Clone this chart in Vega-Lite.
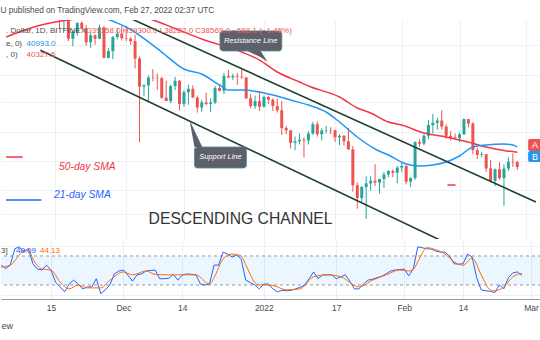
{
  "$schema": "https://vega.github.io/schema/vega-lite/v6.json",
  "background": "white",
  "padding": {"left": 0, "right": 0, "top": 5, "bottom": 0},
  "spacing": 1,
  "title": {"text": "U published on TradingView.com, Feb 27, 2022 02:37 UTC", "anchor": "start", "fontSize": 8.2, "fontWeight": "normal", "color": "#4a4a4a", "font": "Liberation Sans", "offset": 5},
  "config": {
    "view": {"stroke": null},
    "font": "Liberation Sans",
    "axis": {"gridColor": "#edf0f5", "gridWidth": 1, "domain": false, "ticks": false, "labels": false}
  },
  "datasets": {
    "candles": [
      {"date": "2021-11-10", "open": 66900, "high": 69000, "low": 62800, "close": 64900},
      {"date": "2021-11-11", "open": 64900, "high": 65600, "low": 64100, "close": 64950},
      {"date": "2021-11-12", "open": 64950, "high": 65400, "low": 62300, "close": 64200},
      {"date": "2021-11-13", "open": 64200, "high": 64900, "low": 63400, "close": 64400},
      {"date": "2021-11-14", "open": 64400, "high": 65500, "low": 63600, "close": 65500},
      {"date": "2021-11-15", "open": 65500, "high": 66300, "low": 63500, "close": 63600},
      {"date": "2021-11-16", "open": 63600, "high": 63600, "low": 58600, "close": 60300},
      {"date": "2021-11-17", "open": 60300, "high": 60800, "low": 58400, "close": 60400},
      {"date": "2021-11-18", "open": 60400, "high": 60900, "low": 56500, "close": 56900},
      {"date": "2021-11-19", "open": 56900, "high": 58300, "low": 55600, "close": 58100},
      {"date": "2021-11-20", "open": 58100, "high": 59800, "low": 57400, "close": 59700},
      {"date": "2021-11-21", "open": 59700, "high": 60000, "low": 58500, "close": 58700},
      {"date": "2021-11-22", "open": 58700, "high": 59300, "low": 55700, "close": 56300},
      {"date": "2021-11-23", "open": 56300, "high": 58000, "low": 55300, "close": 57500},
      {"date": "2021-11-24", "open": 57500, "high": 57700, "low": 55900, "close": 56900},
      {"date": "2021-11-25", "open": 56900, "high": 59400, "low": 56800, "close": 58900},
      {"date": "2021-11-26", "open": 58900, "high": 59100, "low": 53600, "close": 53700},
      {"date": "2021-11-27", "open": 53700, "high": 55300, "low": 53600, "close": 54800},
      {"date": "2021-11-28", "open": 54800, "high": 57400, "low": 53500, "close": 57200},
      {"date": "2021-11-29", "open": 57200, "high": 58800, "low": 56800, "close": 57800},
      {"date": "2021-11-30", "open": 57800, "high": 59200, "low": 56600, "close": 57000},
      {"date": "2021-12-01", "open": 57000, "high": 59100, "low": 56500, "close": 56900},
      {"date": "2021-12-02", "open": 56900, "high": 57200, "low": 55900, "close": 56500},
      {"date": "2021-12-03", "open": 56500, "high": 57600, "low": 52000, "close": 53600},
      {"date": "2021-12-04", "open": 53600, "high": 53900, "low": 41600, "close": 49200},
      {"date": "2021-12-05", "open": 49200, "high": 49600, "low": 47800, "close": 49400},
      {"date": "2021-12-06", "open": 49400, "high": 50900, "low": 47100, "close": 50600},
      {"date": "2021-12-07", "open": 50600, "high": 51900, "low": 50000, "close": 50550},
      {"date": "2021-12-08", "open": 50550, "high": 51200, "low": 48700, "close": 50500},
      {"date": "2021-12-09", "open": 50500, "high": 50700, "low": 47400, "close": 47600},
      {"date": "2021-12-10", "open": 47600, "high": 50100, "low": 47300, "close": 47100},
      {"date": "2021-12-11", "open": 47100, "high": 49500, "low": 46800, "close": 49300},
      {"date": "2021-12-12", "open": 49300, "high": 50700, "low": 48700, "close": 50100},
      {"date": "2021-12-13", "open": 50100, "high": 50200, "low": 45800, "close": 46700},
      {"date": "2021-12-14", "open": 46700, "high": 48700, "low": 46300, "close": 48400},
      {"date": "2021-12-15", "open": 48400, "high": 49500, "low": 46600, "close": 48900},
      {"date": "2021-12-16", "open": 48900, "high": 49400, "low": 47600, "close": 47600},
      {"date": "2021-12-17", "open": 47600, "high": 47900, "low": 45500, "close": 46200},
      {"date": "2021-12-18", "open": 46200, "high": 47300, "low": 45600, "close": 46900},
      {"date": "2021-12-19", "open": 46900, "high": 48300, "low": 46500, "close": 46700},
      {"date": "2021-12-20", "open": 46700, "high": 47500, "low": 45600, "close": 46900},
      {"date": "2021-12-21", "open": 46900, "high": 49300, "low": 46700, "close": 49000},
      {"date": "2021-12-22", "open": 49000, "high": 49600, "low": 48500, "close": 48600},
      {"date": "2021-12-23", "open": 48600, "high": 51300, "low": 48100, "close": 50800},
      {"date": "2021-12-24", "open": 50800, "high": 51800, "low": 50500, "close": 50600},
      {"date": "2021-12-25", "open": 50600, "high": 51200, "low": 50200, "close": 50800},
      {"date": "2021-12-26", "open": 50800, "high": 51300, "low": 49500, "close": 50700},
      {"date": "2021-12-27", "open": 50700, "high": 52000, "low": 50400, "close": 50600},
      {"date": "2021-12-28", "open": 50600, "high": 50700, "low": 47400, "close": 47500},
      {"date": "2021-12-29", "open": 47500, "high": 48100, "low": 46100, "close": 46400},
      {"date": "2021-12-30", "open": 46400, "high": 47900, "low": 46000, "close": 47100},
      {"date": "2021-12-31", "open": 47100, "high": 48500, "low": 45700, "close": 46300},
      {"date": "2022-01-01", "open": 46300, "high": 47900, "low": 46200, "close": 47700},
      {"date": "2022-01-02", "open": 47700, "high": 47900, "low": 46700, "close": 47300},
      {"date": "2022-01-03", "open": 47300, "high": 47500, "low": 45700, "close": 46400},
      {"date": "2022-01-04", "open": 46400, "high": 47500, "low": 45500, "close": 45800},
      {"date": "2022-01-05", "open": 45800, "high": 47100, "low": 42500, "close": 43400},
      {"date": "2022-01-06", "open": 43400, "high": 43700, "low": 42600, "close": 43100},
      {"date": "2022-01-07", "open": 43100, "high": 43100, "low": 40800, "close": 41500},
      {"date": "2022-01-08", "open": 41500, "high": 42300, "low": 40600, "close": 41700},
      {"date": "2022-01-09", "open": 41700, "high": 42700, "low": 41300, "close": 41900},
      {"date": "2022-01-10", "open": 41900, "high": 42200, "low": 39700, "close": 41800},
      {"date": "2022-01-11", "open": 41800, "high": 43000, "low": 41300, "close": 42700},
      {"date": "2022-01-12", "open": 42700, "high": 44200, "low": 42500, "close": 43900},
      {"date": "2022-01-13", "open": 43900, "high": 44300, "low": 42300, "close": 42600},
      {"date": "2022-01-14", "open": 42600, "high": 43400, "low": 41800, "close": 43100},
      {"date": "2022-01-15", "open": 43100, "high": 43700, "low": 42700, "close": 43150},
      {"date": "2022-01-16", "open": 43150, "high": 43500, "low": 42600, "close": 43100},
      {"date": "2022-01-17", "open": 43100, "high": 43200, "low": 41600, "close": 42200},
      {"date": "2022-01-18", "open": 42200, "high": 42600, "low": 41200, "close": 42400},
      {"date": "2022-01-19", "open": 42400, "high": 42500, "low": 41200, "close": 41700},
      {"date": "2022-01-20", "open": 41700, "high": 43400, "low": 40600, "close": 40700},
      {"date": "2022-01-21", "open": 40700, "high": 41100, "low": 35800, "close": 36500},
      {"date": "2022-01-22", "open": 36500, "high": 36800, "low": 34000, "close": 35100},
      {"date": "2022-01-23", "open": 35100, "high": 36400, "low": 34700, "close": 36300},
      {"date": "2022-01-24", "open": 36300, "high": 37500, "low": 32950, "close": 36700},
      {"date": "2022-01-25", "open": 36700, "high": 37500, "low": 35900, "close": 37000},
      {"date": "2022-01-26", "open": 37000, "high": 38900, "low": 36400, "close": 36800},
      {"date": "2022-01-27", "open": 36800, "high": 37200, "low": 35600, "close": 37200},
      {"date": "2022-01-28", "open": 37200, "high": 38000, "low": 36200, "close": 37700},
      {"date": "2022-01-29", "open": 37700, "high": 38200, "low": 37400, "close": 38100},
      {"date": "2022-01-30", "open": 38100, "high": 38300, "low": 37400, "close": 37900},
      {"date": "2022-01-31", "open": 37900, "high": 38700, "low": 36700, "close": 38500},
      {"date": "2022-02-01", "open": 38500, "high": 39200, "low": 38000, "close": 38700},
      {"date": "2022-02-02", "open": 38700, "high": 38800, "low": 36600, "close": 36900},
      {"date": "2022-02-03", "open": 36900, "high": 37400, "low": 36300, "close": 37300},
      {"date": "2022-02-04", "open": 37300, "high": 41700, "low": 37100, "close": 41600},
      {"date": "2022-02-05", "open": 41600, "high": 42000, "low": 41000, "close": 41400},
      {"date": "2022-02-06", "open": 41400, "high": 42600, "low": 41200, "close": 42400},
      {"date": "2022-02-07", "open": 42400, "high": 44500, "low": 42000, "close": 43800},
      {"date": "2022-02-08", "open": 43800, "high": 45300, "low": 42700, "close": 44100},
      {"date": "2022-02-09", "open": 44100, "high": 44800, "low": 43200, "close": 44400},
      {"date": "2022-02-10", "open": 44400, "high": 45800, "low": 43200, "close": 43600},
      {"date": "2022-02-11", "open": 43600, "high": 43900, "low": 42000, "close": 42400},
      {"date": "2022-02-12", "open": 42400, "high": 43000, "low": 41800, "close": 42200},
      {"date": "2022-02-13", "open": 42200, "high": 42700, "low": 41900, "close": 42100},
      {"date": "2022-02-14", "open": 42100, "high": 42800, "low": 41600, "close": 42600},
      {"date": "2022-02-15", "open": 42600, "high": 44700, "low": 42500, "close": 44600},
      {"date": "2022-02-16", "open": 44600, "high": 44600, "low": 43500, "close": 44000},
      {"date": "2022-02-17", "open": 44000, "high": 44200, "low": 40100, "close": 40600},
      {"date": "2022-02-18", "open": 40600, "high": 40900, "low": 39500, "close": 40000},
      {"date": "2022-02-19", "open": 40000, "high": 40400, "low": 39700, "close": 40100},
      {"date": "2022-02-20", "open": 40100, "high": 40100, "low": 38000, "close": 38400},
      {"date": "2022-02-21", "open": 38400, "high": 39400, "low": 36800, "close": 37000},
      {"date": "2022-02-22", "open": 37000, "high": 38400, "low": 36400, "close": 38300},
      {"date": "2022-02-23", "open": 38300, "high": 39100, "low": 37100, "close": 37300},
      {"date": "2022-02-24", "open": 37300, "high": 38900, "low": 34300, "close": 38400},
      {"date": "2022-02-25", "open": 38400, "high": 39700, "low": 38100, "close": 39200},
      {"date": "2022-02-26", "open": 39200, "high": 40200, "low": 38600, "close": 39137},
      {"date": "2022-02-27", "open": 39158, "high": 39300, "low": 38222, "close": 38569}
    ],
    "sma50": [
      {"date": "2021-11-04", "value": 57195}, {"date": "2021-11-11", "value": 59133},
      {"date": "2021-11-15", "value": 59857}, {"date": "2021-11-20", "value": 60450},
      {"date": "2021-11-27", "value": 61000}, {"date": "2021-12-02", "value": 61000},
      {"date": "2021-12-07", "value": 60230}, {"date": "2021-12-12", "value": 58690},
      {"date": "2021-12-18", "value": 56850}, {"date": "2021-12-27", "value": 54660},
      {"date": "2021-12-31", "value": 53346}, {"date": "2022-01-04", "value": 51445},
      {"date": "2022-01-09", "value": 49906}, {"date": "2022-01-11", "value": 49300},
      {"date": "2022-01-18", "value": 47690}, {"date": "2022-01-22", "value": 46123},
      {"date": "2022-01-25", "value": 45431}, {"date": "2022-01-29", "value": 44210},
      {"date": "2022-02-01", "value": 43810}, {"date": "2022-02-06", "value": 42760},
      {"date": "2022-02-11", "value": 42245}, {"date": "2022-02-15", "value": 41734},
      {"date": "2022-02-20", "value": 40983}, {"date": "2022-02-24", "value": 40552},
      {"date": "2022-02-27", "value": 40327.5}
    ],
    "sma21": [
      {"date": "2021-11-04", "value": 63500}, {"date": "2021-11-12", "value": 64200},
      {"date": "2021-11-20", "value": 62500}, {"date": "2021-11-28", "value": 60000},
      {"date": "2021-12-01", "value": 58958}, {"date": "2021-12-09", "value": 54658},
      {"date": "2021-12-14", "value": 51913}, {"date": "2021-12-18", "value": 51132},
      {"date": "2021-12-22", "value": 49458}, {"date": "2021-12-24", "value": 48711},
      {"date": "2021-12-27", "value": 48711}, {"date": "2021-12-31", "value": 48417},
      {"date": "2022-01-03", "value": 47978}, {"date": "2022-01-07", "value": 47257},
      {"date": "2022-01-11", "value": 46548}, {"date": "2022-01-15", "value": 45570},
      {"date": "2022-01-18", "value": 44210}, {"date": "2022-01-22", "value": 42245},
      {"date": "2022-01-26", "value": 40736}, {"date": "2022-01-29", "value": 40002},
      {"date": "2022-02-02", "value": 38928}, {"date": "2022-02-05", "value": 38690},
      {"date": "2022-02-08", "value": 38809}, {"date": "2022-02-11", "value": 39162},
      {"date": "2022-02-14", "value": 39883}, {"date": "2022-02-17", "value": 40983},
      {"date": "2022-02-20", "value": 41231}, {"date": "2022-02-24", "value": 41358},
      {"date": "2022-02-26", "value": 41231}, {"date": "2022-02-27", "value": 40993}
    ],
    "stochK": [
      {"date": "2021-11-04", "k": 61}, {"date": "2021-11-05", "k": 54}, {"date": "2021-11-06", "k": 61},
      {"date": "2021-11-07", "k": 95}, {"date": "2021-11-08", "k": 99}, {"date": "2021-11-09", "k": 88},
      {"date": "2021-11-10", "k": 95}, {"date": "2021-11-11", "k": 64}, {"date": "2021-11-12", "k": 53},
      {"date": "2021-11-13", "k": 51}, {"date": "2021-11-14", "k": 61}, {"date": "2021-11-15", "k": 51},
      {"date": "2021-11-16", "k": 26}, {"date": "2021-11-17", "k": 16}, {"date": "2021-11-18", "k": 6},
      {"date": "2021-11-19", "k": 22}, {"date": "2021-11-20", "k": 30}, {"date": "2021-11-21", "k": 22},
      {"date": "2021-11-22", "k": 12}, {"date": "2021-11-23", "k": 16}, {"date": "2021-11-24", "k": 16},
      {"date": "2021-11-25", "k": 33}, {"date": "2021-11-26", "k": 2}, {"date": "2021-11-27", "k": 10},
      {"date": "2021-11-28", "k": 20}, {"date": "2021-11-29", "k": 43}, {"date": "2021-11-30", "k": 49},
      {"date": "2021-12-01", "k": 51}, {"date": "2021-12-02", "k": 40}, {"date": "2021-12-03", "k": 28},
      {"date": "2021-12-04", "k": 41}, {"date": "2021-12-05", "k": 43}, {"date": "2021-12-06", "k": 49},
      {"date": "2021-12-07", "k": 50}, {"date": "2021-12-08", "k": 51}, {"date": "2021-12-09", "k": 33},
      {"date": "2021-12-10", "k": 33}, {"date": "2021-12-11", "k": 34}, {"date": "2021-12-12", "k": 42},
      {"date": "2021-12-13", "k": 30}, {"date": "2021-12-14", "k": 41}, {"date": "2021-12-15", "k": 43},
      {"date": "2021-12-16", "k": 42}, {"date": "2021-12-17", "k": 41}, {"date": "2021-12-18", "k": 22},
      {"date": "2021-12-19", "k": 20}, {"date": "2021-12-20", "k": 22}, {"date": "2021-12-21", "k": 61},
      {"date": "2021-12-22", "k": 61}, {"date": "2021-12-23", "k": 88}, {"date": "2021-12-24", "k": 84},
      {"date": "2021-12-25", "k": 78}, {"date": "2021-12-26", "k": 82}, {"date": "2021-12-27", "k": 74},
      {"date": "2021-12-28", "k": 30}, {"date": "2021-12-29", "k": 25}, {"date": "2021-12-30", "k": 20},
      {"date": "2021-12-31", "k": 12}, {"date": "2022-01-01", "k": 22}, {"date": "2022-01-02", "k": 22},
      {"date": "2022-01-03", "k": 12}, {"date": "2022-01-04", "k": 6}, {"date": "2022-01-05", "k": 9},
      {"date": "2022-01-06", "k": 8}, {"date": "2022-01-07", "k": 9}, {"date": "2022-01-08", "k": 12},
      {"date": "2022-01-09", "k": 15}, {"date": "2022-01-10", "k": 20}, {"date": "2022-01-11", "k": 33},
      {"date": "2022-01-12", "k": 47}, {"date": "2022-01-13", "k": 33}, {"date": "2022-01-14", "k": 41},
      {"date": "2022-01-15", "k": 41}, {"date": "2022-01-16", "k": 41}, {"date": "2022-01-17", "k": 33},
      {"date": "2022-01-18", "k": 37}, {"date": "2022-01-19", "k": 41}, {"date": "2022-01-20", "k": 28},
      {"date": "2022-01-21", "k": 12}, {"date": "2022-01-22", "k": 12}, {"date": "2022-01-23", "k": 22},
      {"date": "2022-01-24", "k": 30}, {"date": "2022-01-25", "k": 32}, {"date": "2022-01-26", "k": 35},
      {"date": "2022-01-27", "k": 38}, {"date": "2022-01-28", "k": 43}, {"date": "2022-01-29", "k": 49},
      {"date": "2022-01-30", "k": 51}, {"date": "2022-01-31", "k": 52}, {"date": "2022-02-01", "k": 53},
      {"date": "2022-02-02", "k": 39}, {"date": "2022-02-03", "k": 53}, {"date": "2022-02-04", "k": 99},
      {"date": "2022-02-05", "k": 97}, {"date": "2022-02-06", "k": 95}, {"date": "2022-02-07", "k": 94},
      {"date": "2022-02-08", "k": 90}, {"date": "2022-02-09", "k": 88}, {"date": "2022-02-10", "k": 88},
      {"date": "2022-02-11", "k": 80}, {"date": "2022-02-12", "k": 64}, {"date": "2022-02-13", "k": 63},
      {"date": "2022-02-14", "k": 64}, {"date": "2022-02-15", "k": 84}, {"date": "2022-02-16", "k": 78},
      {"date": "2022-02-17", "k": 35}, {"date": "2022-02-18", "k": 10}, {"date": "2022-02-19", "k": 8},
      {"date": "2022-02-20", "k": 7}, {"date": "2022-02-21", "k": 4}, {"date": "2022-02-22", "k": 20},
      {"date": "2022-02-23", "k": 12}, {"date": "2022-02-24", "k": 35}, {"date": "2022-02-25", "k": 45},
      {"date": "2022-02-26", "k": 47}, {"date": "2022-02-27", "k": 40.09}
    ],
    "stochD": [
      {"date": "2021-11-04", "d": 57}, {"date": "2021-11-06", "d": 61}, {"date": "2021-11-08", "d": 82},
      {"date": "2021-11-09", "d": 92}, {"date": "2021-11-10", "d": 93}, {"date": "2021-11-11", "d": 74},
      {"date": "2021-11-13", "d": 53}, {"date": "2021-11-15", "d": 51}, {"date": "2021-11-17", "d": 26},
      {"date": "2021-11-19", "d": 12}, {"date": "2021-11-21", "d": 20}, {"date": "2021-11-23", "d": 14},
      {"date": "2021-11-26", "d": 14}, {"date": "2021-11-28", "d": 30}, {"date": "2021-12-01", "d": 47},
      {"date": "2021-12-03", "d": 41}, {"date": "2021-12-06", "d": 49}, {"date": "2021-12-08", "d": 42},
      {"date": "2021-12-11", "d": 41}, {"date": "2021-12-14", "d": 41}, {"date": "2021-12-17", "d": 41},
      {"date": "2021-12-20", "d": 22}, {"date": "2021-12-21", "d": 35}, {"date": "2021-12-23", "d": 74},
      {"date": "2021-12-25", "d": 84}, {"date": "2021-12-27", "d": 80}, {"date": "2021-12-28", "d": 62},
      {"date": "2021-12-29", "d": 42}, {"date": "2021-12-30", "d": 25}, {"date": "2021-12-31", "d": 20},
      {"date": "2022-01-01", "d": 20}, {"date": "2022-01-03", "d": 19}, {"date": "2022-01-06", "d": 10},
      {"date": "2022-01-09", "d": 12}, {"date": "2022-01-12", "d": 37}, {"date": "2022-01-15", "d": 41},
      {"date": "2022-01-18", "d": 37}, {"date": "2022-01-22", "d": 16}, {"date": "2022-01-25", "d": 30},
      {"date": "2022-01-28", "d": 41}, {"date": "2022-01-31", "d": 51}, {"date": "2022-02-02", "d": 49},
      {"date": "2022-02-03", "d": 52}, {"date": "2022-02-04", "d": 68}, {"date": "2022-02-06", "d": 97},
      {"date": "2022-02-08", "d": 93}, {"date": "2022-02-10", "d": 84}, {"date": "2022-02-12", "d": 68},
      {"date": "2022-02-14", "d": 61}, {"date": "2022-02-16", "d": 76}, {"date": "2022-02-18", "d": 41},
      {"date": "2022-02-20", "d": 10}, {"date": "2022-02-21", "d": 8}, {"date": "2022-02-23", "d": 16},
      {"date": "2022-02-25", "d": 37}, {"date": "2022-02-27", "d": 44.13}
    ],
    "trend": [
      {"line": "upper", "start": "2021-11-26T01:00:00Z", "p1": 62746, "end": "2022-03-03T05:00:00Z", "p2": 34693},
      {"line": "lower", "start": "2021-11-11T16:30:00Z", "p1": 54954, "end": "2022-02-13T13:12:00Z", "p2": 30143}
    ]
  },
  "vconcat": [
    {
      "width": 540,
      "height": 219,
      "layer": [
        {
          "data": {"name": "candles"},
          "mark": {"type": "rule", "clip": true, "strokeWidth": 1},
          "encoding": {
            "x": {"field": "date", "type": "temporal",
              "scale": {"type": "utc", "domain": [{"year": 2021, "month": 11, "date": 3, "hours": 23, "utc": true}, {"year": 2022, "month": 3, "date": 3, "hours": 5, "utc": true}]},
              "axis": {"title": null, "grid": true, "labels": false, "ticks": false, "domain": false,
                "values": [{"year": 2021, "month": 11, "date": 15, "utc": true}, {"year": 2021, "month": 12, "date": 1, "utc": true}, {"year": 2021, "month": 12, "date": 14, "utc": true}, {"year": 2022, "month": 1, "date": 1, "utc": true}, {"year": 2022, "month": 1, "date": 17, "utc": true}, {"year": 2022, "month": 2, "date": 1, "utc": true}, {"year": 2022, "month": 2, "date": 14, "utc": true}, {"year": 2022, "month": 3, "date": 1, "utc": true}]}},
            "y": {"field": "low", "type": "quantitative",
              "scale": {"type": "log", "domain": [31010, 60230], "nice": false, "zero": false},
              "axis": {"title": null, "grid": true, "labels": false, "ticks": false, "domain": false, "values": [33453, 35975, 39280, 42890, 46970, 50970, 55824]}},
            "y2": {"field": "high"},
            "color": {"condition": {"test": "datum.close >= datum.open", "value": "#26a69a"}, "value": "#ef5350"}
          }
        },
        {
          "data": {"name": "candles"},
          "mark": {"type": "bar", "clip": true, "width": 3},
          "encoding": {
            "x": {"field": "date", "type": "temporal"},
            "y": {"field": "open", "type": "quantitative"},
            "y2": {"field": "close"},
            "color": {"condition": {"test": "datum.close >= datum.open", "value": "#26a69a"}, "value": "#ef5350"}
          }
        },
        {
          "mark": {"type": "rule", "color": "#e0e3eb", "strokeWidth": 1},
          "encoding": {"y": {"datum": 60230, "type": "quantitative"}}
        },
        {
          "mark": {"type": "rule", "color": "#b2b5be", "strokeWidth": 1},
          "encoding": {"y": {"datum": 31010, "type": "quantitative"}}
        },
        {
          "mark": {"type": "rule", "color": "#ef5350", "strokeWidth": 1, "strokeDash": [1, 2]},
          "encoding": {"y": {"datum": 38569, "type": "quantitative"}}
        },
        {
          "data": {"name": "sma50"},
          "mark": {"type": "line", "clip": true, "color": "#f23645", "strokeWidth": 1.5, "interpolate": "monotone"},
          "encoding": {"x": {"field": "date", "type": "temporal"}, "y": {"field": "value", "type": "quantitative"}}
        },
        {
          "data": {"name": "sma21"},
          "mark": {"type": "line", "clip": true, "color": "#2196f3", "strokeWidth": 1.5, "interpolate": "monotone"},
          "encoding": {"x": {"field": "date", "type": "temporal"}, "y": {"field": "value", "type": "quantitative"}}
        },
        {
          "data": {"name": "trend"},
          "mark": {"type": "rule", "clip": true, "color": "#1f3f2e", "strokeWidth": 1.6},
          "encoding": {"x": {"field": "start", "type": "temporal"}, "y": {"field": "p1", "type": "quantitative"}, "x2": {"field": "end"}, "y2": {"field": "p2"}}
        },
        {
          "data": {"values": [{"start": "2021-11-03T23:00:00Z", "end": "2021-11-07T17:00:00Z", "price": 39761}, {"start": "2022-02-11T07:00:00Z", "end": "2022-02-13T02:30:00Z", "price": 36525}]},
          "mark": {"type": "rule", "clip": true, "color": "#f23645", "strokeWidth": 1.5},
          "encoding": {"x": {"field": "start", "type": "temporal"}, "x2": {"field": "end"}, "y": {"field": "price", "type": "quantitative"}}
        },
        {
          "data": {"values": [{"start": "2021-11-03T23:00:00Z", "end": "2021-11-11T21:50:00Z", "price": 34904}]},
          "mark": {"type": "rule", "clip": true, "color": "#2962ff", "strokeWidth": 1.5},
          "encoding": {"x": {"field": "start", "type": "temporal"}, "x2": {"field": "end"}, "y": {"field": "price", "type": "quantitative"}}
        },
        {
          "data": {"values": [{"start": "2021-12-22T02:24:00Z", "end": "2022-01-05T00:30:00Z", "top": 58266, "bottom": 54832}, {"start": "2021-12-16T08:40:00Z", "end": "2021-12-28T01:26:00Z", "top": 40983, "bottom": 38456}]},
          "mark": {"type": "rect", "clip": true, "fill": "#5d606b", "stroke": "#4b8f8c", "strokeWidth": 0.8, "cornerRadius": 3},
          "encoding": {"x": {"field": "start", "type": "temporal"}, "x2": {"field": "end"}, "y": {"field": "top", "type": "quantitative"}, "y2": {"field": "bottom"}}
        },
        {
          "data": {"values": [
            {"id": "resistance", "date": "2021-12-28T06:43:00Z", "top": 54832, "bottom": 54832},
            {"id": "resistance", "date": "2021-12-31T06:29:00Z", "top": 54832, "bottom": 53798},
            {"id": "resistance", "date": "2022-01-01T19:40:00Z", "top": 53026, "bottom": 53026},
            {"id": "support", "date": "2021-12-15T06:00:00Z", "top": 44478, "bottom": 44478},
            {"id": "support", "date": "2021-12-16T08:40:00Z", "top": 43100, "bottom": 40983},
            {"id": "support", "date": "2021-12-18T03:00:00Z", "top": 40983, "bottom": 40983}
          ]},
          "mark": {"type": "area", "clip": true, "color": "#5d606b", "interpolate": "linear", "opacity": 1},
          "encoding": {"x": {"field": "date", "type": "temporal"}, "y": {"field": "top", "type": "quantitative"}, "y2": {"field": "bottom"}, "detail": {"field": "id"}}
        },
        {
          "data": {"values": [{"date": "2021-12-29T00:00:00Z", "price": 56505, "label": "Resistance Line"}, {"date": "2021-12-22T04:50:00Z", "price": 39702, "label": "Support Line"}]},
          "mark": {"type": "text", "color": "white", "fontSize": 7.5, "fontStyle": "italic", "align": "center", "baseline": "middle"},
          "encoding": {"x": {"field": "date", "type": "temporal"}, "y": {"field": "price", "type": "quantitative"}, "text": {"field": "label"}}
        },
        {
          "data": {"values": [{"date": "2021-12-26T17:45:00Z", "price": 32950, "label": "DESCENDING CHANNEL"}]},
          "mark": {"type": "text", "color": "#333333", "fontSize": 15.7, "align": "center", "baseline": "middle"},
          "encoding": {"x": {"field": "date", "type": "temporal"}, "y": {"field": "price", "type": "quantitative"}, "text": {"field": "label"}}
        },
        {
          "data": {"values": [{"date": "2021-11-15T21:10:00Z", "price": 38575, "label": "50-day SMA"}]},
          "mark": {"type": "text", "color": "#f23645", "fontSize": 10.3, "fontStyle": "italic", "align": "left", "baseline": "middle"},
          "encoding": {"x": {"field": "date", "type": "temporal"}, "y": {"field": "price", "type": "quantitative"}, "text": {"field": "label"}}
        },
        {
          "data": {"values": [{"date": "2021-11-14T18:40:00Z", "price": 35435, "label": "21-day SMA"}]},
          "mark": {"type": "text", "color": "#2962ff", "fontSize": 10.3, "fontStyle": "italic", "align": "left", "baseline": "middle"},
          "encoding": {"x": {"field": "date", "type": "temporal"}, "y": {"field": "price", "type": "quantitative"}, "text": {"field": "label"}}
        },
        {
          "data": {"values": [{"date": "2021-11-03T23:00:00Z", "price": 58266, "label": ". Dollar, 1D, BITFINEX"}, {"date": "2021-11-03T23:00:00Z", "price": 56005, "label": "e, 0)"}, {"date": "2021-11-03T23:00:00Z", "price": 54160, "label": ", 0)"}]},
          "mark": {"type": "text", "color": "#4a4a4a", "fontSize": 8, "align": "left", "baseline": "middle"},
          "encoding": {"x": {"field": "date", "type": "temporal"}, "y": {"field": "price", "type": "quantitative"}, "text": {"field": "label"}}
        },
        {
          "data": {"values": [{"date": "2021-11-21T20:10:00Z", "price": 58266, "label": "O39158.0 H39300.0 L38222.0 C38569.0 −568.1 (−1.45%)"}, {"date": "2021-11-08T14:10:00Z", "price": 54160, "label": "40327.5"}]},
          "mark": {"type": "text", "color": "#ef5350", "fontSize": 8, "align": "left", "baseline": "middle"},
          "encoding": {"x": {"field": "date", "type": "temporal"}, "y": {"field": "price", "type": "quantitative"}, "text": {"field": "label"}}
        },
        {
          "data": {"values": [{"date": "2021-11-08T14:10:00Z", "price": 56005, "label": "40993.0"}]},
          "mark": {"type": "text", "color": "#2196f3", "fontSize": 8, "align": "left", "baseline": "middle"},
          "encoding": {"x": {"field": "date", "type": "temporal"}, "y": {"field": "price", "type": "quantitative"}, "text": {"field": "label"}}
        },
        {
          "data": {"values": [{"start": "2022-03-01T10:30:00Z", "end": "2022-03-06T00:00:00Z", "top": 41988, "bottom": 40490}]},
          "mark": {"type": "rect", "clip": true, "fill": "#ef5350", "cornerRadius": 2},
          "encoding": {"x": {"field": "start", "type": "temporal"}, "x2": {"field": "end"}, "y": {"field": "top", "type": "quantitative"}, "y2": {"field": "bottom"}}
        },
        {
          "data": {"values": [{"start": "2022-03-01T10:30:00Z", "end": "2022-03-06T00:00:00Z", "top": 40490, "bottom": 39161}]},
          "mark": {"type": "rect", "clip": true, "fill": "#2196f3", "cornerRadius": 2},
          "encoding": {"x": {"field": "start", "type": "temporal"}, "x2": {"field": "end"}, "y": {"field": "top", "type": "quantitative"}, "y2": {"field": "bottom"}}
        },
        {
          "data": {"values": [{"date": "2022-03-02T07:00:00Z", "price": 41230, "label": "A"}, {"date": "2022-03-02T07:00:00Z", "price": 39820, "label": "B"}]},
          "mark": {"type": "text", "clip": true, "color": "white", "fontSize": 9, "align": "left", "baseline": "middle"},
          "encoding": {"x": {"field": "date", "type": "temporal"}, "y": {"field": "price", "type": "quantitative"}, "text": {"field": "label"}}
        }
      ]
    },
    {
      "width": 540,
      "height": 59,
      "layer": [
        {
          "data": {"values": [{"lo": 20, "hi": 80}]},
          "mark": {"type": "rect", "color": "#2196f3", "opacity": 0.09},
          "encoding": {
            "y": {"field": "hi", "type": "quantitative", "scale": {"domain": [-8.97, 113.1], "nice": false, "zero": false},
              "axis": {"title": null, "grid": true, "labels": false, "ticks": false, "domain": false, "values": [0, 100]}},
            "y2": {"field": "lo"}
          }
        },
        {
          "data": {"values": [{"level": 20}, {"level": 80}]},
          "mark": {"type": "rule", "color": "#9598a1", "strokeWidth": 1, "strokeDash": [3, 3]},
          "encoding": {"y": {"field": "level", "type": "quantitative"}}
        },
        {
          "mark": {"type": "rule", "color": "#b2b5be", "strokeWidth": 1},
          "encoding": {"y": {"datum": 113.1, "type": "quantitative"}}
        },
        {
          "data": {"name": "stochK"},
          "mark": {"type": "line", "clip": true, "color": "#2962ff", "strokeWidth": 1},
          "encoding": {
            "x": {"field": "date", "type": "temporal",
              "scale": {"type": "utc", "domain": [{"year": 2021, "month": 11, "date": 3, "hours": 23, "utc": true}, {"year": 2022, "month": 3, "date": 3, "hours": 5, "utc": true}]},
              "axis": {"title": "ew", "titleAnchor": "start", "titleAlign": "left", "titleFontSize": 9, "titleFontWeight": "normal", "titleColor": "#4a4a4a", "titlePadding": 10,
                "grid": true, "labels": true, "ticks": false, "domain": true, "domainColor": "#9598a1", "labelColor": "#4a4a4a", "labelFontSize": 8.5, "labelPadding": 4, "labelFlush": false, "labelOverlap": false,
                "labelExpr": "utcdate(datum.value) == 1 ? (utcmonth(datum.value) == 0 ? utcFormat(datum.value, '%Y') : utcFormat(datum.value, '%b')) : utcFormat(datum.value, '%-d')",
                "values": [{"year": 2021, "month": 11, "date": 15, "utc": true}, {"year": 2021, "month": 12, "date": 1, "utc": true}, {"year": 2021, "month": 12, "date": 14, "utc": true}, {"year": 2022, "month": 1, "date": 1, "utc": true}, {"year": 2022, "month": 1, "date": 17, "utc": true}, {"year": 2022, "month": 2, "date": 1, "utc": true}, {"year": 2022, "month": 2, "date": 14, "utc": true}, {"year": 2022, "month": 3, "date": 1, "utc": true}]}},
            "y": {"field": "k", "type": "quantitative"}
          }
        },
        {
          "data": {"name": "stochD"},
          "mark": {"type": "line", "clip": true, "color": "#ff6d00", "strokeWidth": 1, "interpolate": "monotone"},
          "encoding": {"x": {"field": "date", "type": "temporal"}, "y": {"field": "d", "type": "quantitative"}}
        },
        {
          "data": {"values": [{"date": "2021-11-03T23:00:00Z", "v": 90.4, "label": "3]"}]},
          "mark": {"type": "text", "color": "#4a4a4a", "fontSize": 8, "align": "left", "baseline": "middle"},
          "encoding": {"x": {"field": "date", "type": "temporal"}, "y": {"field": "v", "type": "quantitative"}, "text": {"field": "label"}}
        },
        {
          "data": {"values": [{"date": "2021-11-07T06:30:00Z", "v": 90.4, "label": "40.09"}]},
          "mark": {"type": "text", "color": "#2962ff", "fontSize": 8, "align": "left", "baseline": "middle"},
          "encoding": {"x": {"field": "date", "type": "temporal"}, "y": {"field": "v", "type": "quantitative"}, "text": {"field": "label"}}
        },
        {
          "data": {"values": [{"date": "2021-11-12T13:40:00Z", "v": 90.4, "label": "44.13"}]},
          "mark": {"type": "text", "color": "#ff6d00", "fontSize": 8, "align": "left", "baseline": "middle"},
          "encoding": {"x": {"field": "date", "type": "temporal"}, "y": {"field": "v", "type": "quantitative"}, "text": {"field": "label"}}
        }
      ]
    }
  ]
}
